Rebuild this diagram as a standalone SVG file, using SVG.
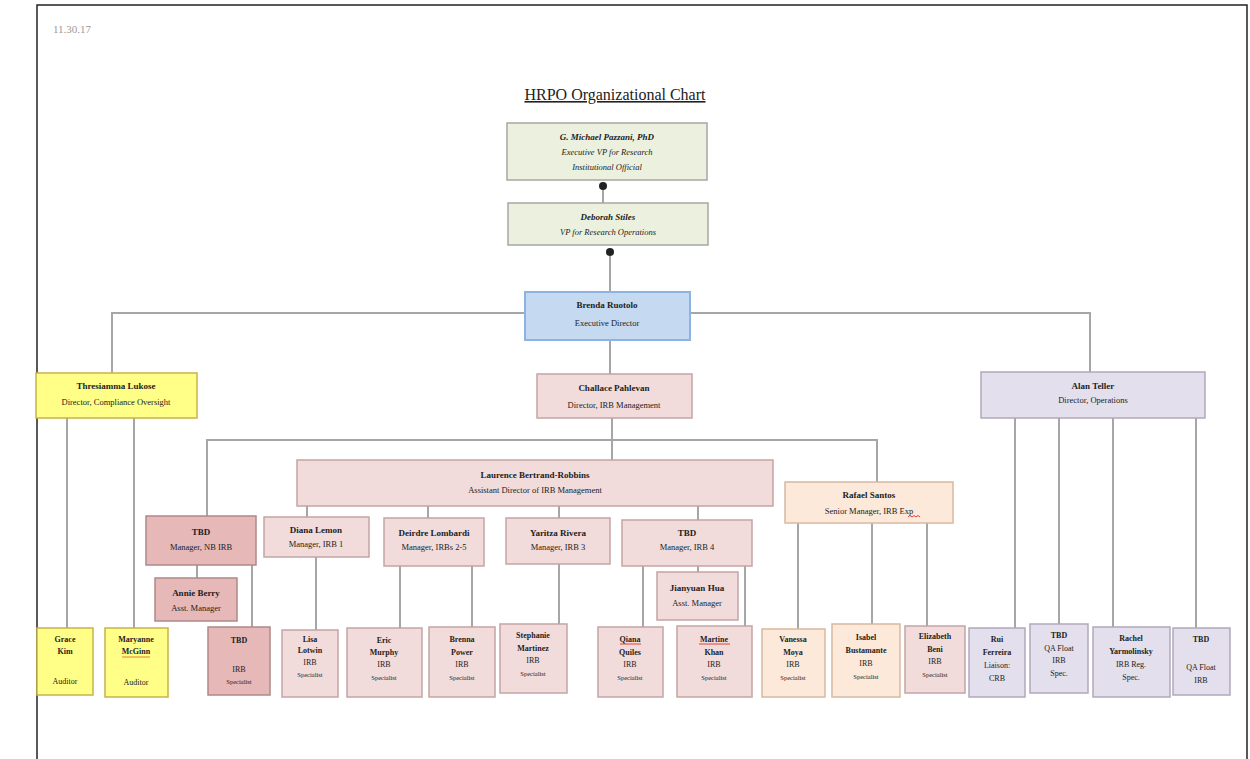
<svg xmlns="http://www.w3.org/2000/svg" width="1250" height="759" viewBox="0 0 1250 759">
<style>
text{font-family:"Liberation Serif","Times New Roman",serif;fill:#222;text-anchor:middle}
.n{font-size:9px;font-weight:bold}
.t{font-size:8.5px}
.i{font-style:italic}
.s{font-size:8px}
.ss{font-size:6.5px}
.green{fill:#ebf1de;stroke:#a6a6a6;stroke-width:1.5}
.blue{fill:#c5d9f1;stroke:#8db3e2;stroke-width:2}
.yel{fill:#ffff88;stroke:#c9b34a;stroke-width:1.5}
.pink{fill:#f2dcdb;stroke:#c4a4a4;stroke-width:1.5}
.dpink{fill:#e6b8b7;stroke:#b08888;stroke-width:1.5}
.peach{fill:#fde9d9;stroke:#d8b8a0;stroke-width:1.5}
.purp{fill:#e4dfec;stroke:#b0a8bc;stroke-width:1.5}
.c{stroke:#a6a6a6;stroke-width:2;fill:none}
.red{stroke:#e04040;stroke-width:1;fill:none}
</style>
<defs>
<marker id="ah" viewBox="0 0 10 10" refX="5" refY="5" markerWidth="5" markerHeight="5" orient="auto"><circle cx="5" cy="5" r="4" fill="#222"/></marker>
</defs>
<rect x="0" y="0" width="1250" height="759" fill="#fff"/>
<path d="M37 759 V5 H1247 V759" fill="none" stroke="#222" stroke-width="1.5"/>
<text x="72" y="33" style="font-size:11px;fill:#999">11.30.17</text>
<text x="615" y="100" style="font-size:16px;text-decoration:underline">HRPO Organizational Chart</text>

<g id="connectors">
<path class="c" d="M603 203 V186" marker-end="url(#ah)"/>
<path class="c" d="M610 292 V252" marker-end="url(#ah)"/>
<path class="c" d="M525 313 H112 V373"/>
<path class="c" d="M690 313 H1090 V372"/>
<path class="c" d="M610 340 V374"/>
<path class="c" d="M67 418 V628"/>
<path class="c" d="M134 418 V628"/>
<path class="c" d="M612 418 V460"/>
<path class="c" d="M207 516 V440 H877 V482"/>
<path class="c" d="M307 506 V517"/>
<path class="c" d="M428 506 V518"/>
<path class="c" d="M559 506 V518"/>
<path class="c" d="M698 506 V520"/>
<path class="c" d="M197 565 V578"/>
<path class="c" d="M252 565 V627"/>
<path class="c" d="M316 557 V630"/>
<path class="c" d="M400 566 V628"/>
<path class="c" d="M472 566 V627"/>
<path class="c" d="M559 564 V624"/>
<path class="c" d="M698 566 V572"/>
<path class="c" d="M643 566 V627"/>
<path class="c" d="M745 566 V626"/>
<path class="c" d="M798 523 V629"/>
<path class="c" d="M872 523 V624"/>
<path class="c" d="M927 523 V626"/>
<path class="c" d="M1015 418 V628"/>
<path class="c" d="M1059 418 V624"/>
<path class="c" d="M1113 418 V627"/>
<path class="c" d="M1196 418 V628"/>
</g>

<g id="pardo"><rect class="green" x="507" y="123" width="200" height="57"/>
<text x="607" y="140" class="n i">G. Michael Pazzani, PhD</text>
<text x="607" y="155" class="t i">Executive VP for Research</text>
<text x="607" y="170" class="t i">Institutional Official</text></g>

<g id="stiles"><rect class="green" x="508" y="203" width="200" height="42"/>
<text x="608" y="220" class="n i">Deborah Stiles</text>
<text x="608" y="235" class="t i">VP for Research Operations</text></g>

<g id="ruotolo"><rect class="blue" x="525" y="292" width="165" height="48"/>
<text x="607" y="308" class="n">Brenda Ruotolo</text>
<text x="607" y="326" class="t">Executive Director</text></g>

<g id="lukose"><rect class="yel" x="36" y="373" width="161" height="45"/>
<text x="116" y="389" class="n">Thresiamma Lukose</text>
<text x="116" y="405" class="t">Director, Compliance Oversight</text></g>

<g id="pahlevan"><rect class="pink" x="537" y="374" width="155" height="44"/>
<text x="614" y="391" class="n">Challace Pahlevan</text>
<text x="614" y="408" class="t">Director, IRB Management</text></g>

<g id="teller"><rect class="purp" x="981" y="372" width="224" height="46"/>
<text x="1093" y="389" class="n">Alan Teller</text>
<text x="1093" y="403" class="t">Director, Operations</text></g>

<g id="robbins"><rect class="pink" x="297" y="460" width="476" height="46"/>
<text x="535" y="478" class="n">Laurence Bertrand-Robbins</text>
<text x="535" y="493" class="t">Assistant Director of IRB Management</text></g>

<g id="rafael"><rect class="peach" x="785" y="482" width="168" height="41"/>
<text x="869" y="498" class="n">Rafael Santos</text>
<text x="869" y="514" class="t">Senior Manager, IRB Exp</text>
<path class="red" d="M908 517 l2 -1.5 l2 1.5 l2 -1.5 l2 1.5 l2 -1.5 l2 1.5"/></g>

<g id="tbd-nb"><rect class="dpink" x="146" y="516" width="110" height="49"/>
<text x="201" y="535" class="n">TBD</text>
<text x="201" y="550" class="t">Manager, NB IRB</text></g>

<g id="berry"><rect class="dpink" x="155" y="578" width="82" height="43"/>
<text x="196" y="596" class="n">Annie Berry</text>
<text x="196" y="611" class="t">Asst. Manager</text></g>

<g id="lemon"><rect class="pink" x="264" y="517" width="105" height="40"/>
<text x="316" y="533" class="n">Diana Lemon</text>
<text x="316" y="547" class="t">Manager, IRB 1</text></g>

<g id="lombardi"><rect class="pink" x="384" y="518" width="100" height="48"/>
<text x="434" y="536" class="n">Deirdre Lombardi</text>
<text x="434" y="550" class="t">Manager, IRBs 2-5</text></g>

<g id="rivera"><rect class="pink" x="506" y="518" width="104" height="46"/>
<text x="558" y="536" class="n">Yaritza Rivera</text>
<text x="558" y="550" class="t">Manager, IRB 3</text></g>

<g id="tbd-4"><rect class="pink" x="622" y="520" width="130" height="46"/>
<text x="687" y="536" class="n">TBD</text>
<text x="687" y="550" class="t">Manager, IRB 4</text></g>

<g id="hua"><rect class="pink" x="657" y="572" width="81" height="48"/>
<text x="697" y="591" class="n">Jianyuan Hua</text>
<text x="697" y="606" class="t">Asst. Manager</text></g>

<g id="kim"><rect class="yel" x="37" y="628" width="56" height="67"/>
<text x="65" y="642" class="s" font-weight="bold">Grace</text>
<text x="65" y="654" class="s" font-weight="bold">Kim</text>
<text x="65" y="684" class="s">Auditor</text></g>

<g id="mcginn"><rect class="yel" x="105" y="628" width="63" height="69"/>
<text x="136" y="642" class="s" font-weight="bold">Maryanne</text>
<text x="136" y="654" class="s" font-weight="bold">McGinn</text>
<path d="M122 657 H150" stroke="#e08020" stroke-width="1"/>
<text x="136" y="685" class="s">Auditor</text></g>

<g id="tbd-spec"><rect class="dpink" x="208" y="627" width="62" height="68"/>
<text x="239" y="643" class="s" font-weight="bold">TBD</text>
<text x="239" y="672" class="s">IRB</text>
<text x="239" y="684" class="ss">Specialist</text></g>

<g id="lotwin"><rect class="pink" x="282" y="630" width="56" height="67"/>
<text x="310" y="642" class="s" font-weight="bold">Lisa</text>
<text x="310" y="653" class="s" font-weight="bold">Lotwin</text>
<text x="310" y="665" class="s">IRB</text>
<text x="310" y="677" class="ss">Specialist</text></g>

<g id="murphy"><rect class="pink" x="347" y="628" width="75" height="69"/>
<text x="384" y="643" class="s" font-weight="bold">Eric</text>
<text x="384" y="655" class="s" font-weight="bold">Murphy</text>
<text x="384" y="667" class="s">IRB</text>
<text x="384" y="680" class="ss">Specialist</text></g>

<g id="power"><rect class="pink" x="429" y="627" width="66" height="70"/>
<text x="462" y="642" class="s" font-weight="bold">Brenna</text>
<text x="462" y="655" class="s" font-weight="bold">Power</text>
<text x="462" y="667" class="s">IRB</text>
<text x="462" y="680" class="ss">Specialist</text></g>

<g id="martinez"><rect class="pink" x="500" y="624" width="67" height="69"/>
<text x="533" y="638" class="s" font-weight="bold">Stephanie</text>
<text x="533" y="651" class="s" font-weight="bold">Martinez</text>
<text x="533" y="663" class="s">IRB</text>
<text x="533" y="676" class="ss">Specialist</text></g>

<g id="quiles"><rect class="pink" x="598" y="627" width="65" height="70"/>
<text x="630" y="642" class="s" font-weight="bold">Qiana</text>
<path class="red" d="M620 644 H641"/>
<text x="630" y="655" class="s" font-weight="bold">Quiles</text>
<text x="630" y="667" class="s">IRB</text>
<text x="630" y="680" class="ss">Specialist</text></g>

<g id="khan"><rect class="pink" x="677" y="626" width="75" height="71"/>
<text x="714" y="642" class="s" font-weight="bold">Martine</text>
<path class="red" d="M699 644 H730"/>
<text x="714" y="655" class="s" font-weight="bold">Khan</text>
<text x="714" y="667" class="s">IRB</text>
<text x="714" y="680" class="ss">Specialist</text></g>

<g id="moya"><rect class="peach" x="762" y="629" width="63" height="68"/>
<text x="793" y="642" class="s" font-weight="bold">Vanessa</text>
<text x="793" y="655" class="s" font-weight="bold">Moya</text>
<text x="793" y="667" class="s">IRB</text>
<text x="793" y="680" class="ss">Specialist</text></g>

<g id="bustamante"><rect class="peach" x="832" y="624" width="68" height="73"/>
<text x="866" y="640" class="s" font-weight="bold">Isabel</text>
<text x="866" y="653" class="s" font-weight="bold">Bustamante</text>
<text x="866" y="666" class="s">IRB</text>
<text x="866" y="679" class="ss">Specialist</text></g>

<g id="beni"><rect class="pink" x="905" y="626" width="60" height="67"/>
<text x="935" y="639" class="s" font-weight="bold">Elizabeth</text>
<text x="935" y="652" class="s" font-weight="bold">Beni</text>
<text x="935" y="664" class="s">IRB</text>
<text x="935" y="677" class="ss">Specialist</text></g>

<g id="ferreira"><rect class="purp" x="969" y="628" width="56" height="69"/>
<text x="997" y="642" class="s" font-weight="bold">Rui</text>
<text x="997" y="655" class="s" font-weight="bold">Ferreira</text>
<text x="997" y="668" class="s">Liaison:</text>
<text x="997" y="681" class="s">CRB</text></g>

<g id="tbd-qa1"><rect class="purp" x="1030" y="624" width="58" height="69"/>
<text x="1059" y="638" class="s" font-weight="bold">TBD</text>
<text x="1059" y="651" class="s">QA Float</text>
<text x="1059" y="663" class="s">IRB</text>
<text x="1059" y="676" class="s">Spec.</text></g>

<g id="yarmolinsky"><rect class="purp" x="1093" y="627" width="77" height="70"/>
<text x="1131" y="641" class="s" font-weight="bold">Rachel</text>
<text x="1131" y="654" class="s" font-weight="bold">Yarmolinsky</text>
<text x="1131" y="667" class="s">IRB Reg.</text>
<text x="1131" y="680" class="s">Spec.</text></g>

<g id="tbd-qa2"><rect class="purp" x="1173" y="628" width="57" height="67"/>
<text x="1201" y="642" class="s" font-weight="bold">TBD</text>
<text x="1201" y="670" class="s">QA Float</text>
<text x="1201" y="683" class="s">IRB</text></g>
</svg>
